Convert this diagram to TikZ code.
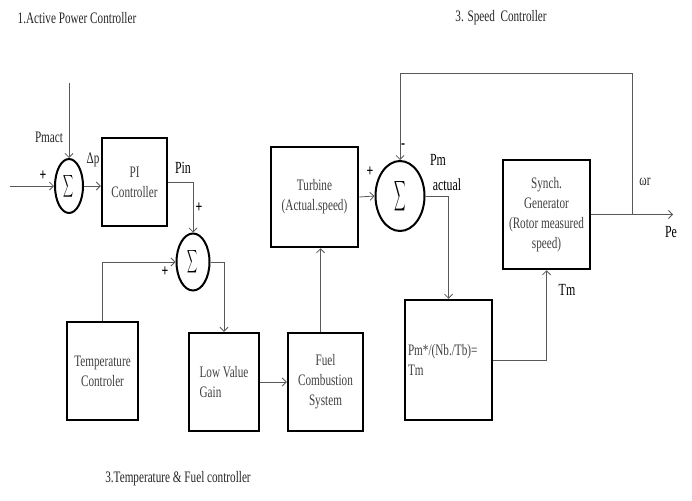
\documentclass[tikz,border=0pt]{standalone}
\usepackage{fontspec}
\setmainfont{Liberation Serif}[FakeStretch=0.7]
\usetikzlibrary{arrows.meta,shapes.geometric}
\newcommand{\sumsym}[2]{{\fontsize{10}{12}\selectfont\scalebox{#1}[#2]{$\displaystyle\sum$}}}
\tikzset{
  block/.style={draw=black, line width=2.5pt, inner sep=3pt, align=center, text=black!75},
  summer/.style={ellipse, draw=black, line width=2pt, inner sep=0pt},
  signal/.style={-{Straight Barb[length=4pt,width=8pt]}, line width=0.8pt, draw=black!65},
  lbl/.style={inner sep=1pt, text=black!85},
  biglbl/.style={inner sep=1pt, text=black, font=\fontsize{17}{20}\selectfont},
  sgn/.style={inner sep=0pt, font=\fontsize{17}{17}\selectfont\bfseries}
}
\begin{document}
\begin{tikzpicture}[x=1pt, y=-1pt, font=\fontsize{16}{20}\selectfont]
  \useasboundingbox[fill=white] (0,0) rectangle (692,500);

  % headings
  \node[lbl] (t1) at (77,18) {1.Active Power Controller};
  \node[lbl] (t2) at (501,18) {3. Speed\ \ Controller};
  \node[lbl] (t3) at (178,479) {3.Temperature \& Fuel controller};

  % active power loop
  \node[summer, minimum width=28pt, minimum height=54pt] (sum1) at (69,186) {\sumsym{0.7}{1.55}};
  \node[block, minimum width=65pt, minimum height=88pt] (pi) at (134.5,182) {PI\\Controller};
  \node[summer, minimum width=33pt, minimum height=57pt] (sum2) at (193,262) {\sumsym{0.7}{1.6}};

  % temperature and fuel
  \node[block, minimum width=71pt, minimum height=98pt] (temp) at (102.5,371) {Temperature\\Controler};
  \node[block, align=left, minimum width=70pt, minimum height=98pt] (low) at (224,382) {Low Value\\Gain};
  \node[block, minimum width=75pt, minimum height=98pt] (fuel) at (325.5,382) {Fuel\\Combustion\\System};

  % speed loop
  \node[block, minimum width=87pt, minimum height=100pt] (turbine) at (314.5,197) {Turbine\\(Actual.speed)};
  \node[summer, minimum width=49pt, minimum height=70pt] (sum3) at (400,196) {\sumsym{0.8}{2.1}};
  \node[block, align=left, text width=81pt, minimum height=120pt] (pm) at (448.5,360) {Pm*/(Nb./Tb)=\\Tm};
  \node[block, minimum width=87pt, minimum height=109pt, inner sep=1pt] (synch) at (546.5,214.5) {Synch.\\Generator\\(Rotor measured\\speed)};

  \coordinate (in) at (10,186);
  \coordinate (pmtop) at (69,83);
  \coordinate (wr) at (632,214.5);
  \coordinate (fbtop) at (632,73);
  \coordinate (pe) at (673,214.5);

  % signal labels
  \node[lbl] (pmact) at (49,137) {Pmact};
  \node[sgn] (p1) at (43,176) {+};
  \node[lbl] (dp) at (93,160) {Δp};
  \node[biglbl] (pin) at (183,168) {Pin};
  \node[sgn] (p2) at (199,208) {+};
  \node[sgn] (p3) at (165,272) {+};
  \node[sgn] (p4) at (370,172) {+};
  \node[sgn] (m1) at (403,146) {-};
  \node[biglbl] (pmlbl) at (438,160) {Pm};
  \node[biglbl] (actlbl) at (447,185) {actual};
  \node[biglbl] (tm) at (567,290) {Tm};
  \node[lbl] (wrlbl) at (645,182) {ωr};
  \node[biglbl] (pelbl) at (671,232) {Pe};

  % connectors
  \draw[signal] (in) -- (sum1.west);
  \draw[signal] (pmtop) -- (sum1.north);
  \draw[signal] (sum1.east) -- (sum1.east -| pi.west);
  \draw[signal] (pi.east) -| (sum2.north);
  \draw[signal] (temp.north) |- (sum2.west);
  \draw[signal] (sum2.east) -| (low.north);
  \draw[signal] (low.east) -- (fuel.west);
  \draw[signal] ([xshift=-5pt]fuel.north) -- ([xshift=-5pt]fuel.north |- turbine.south);
  \draw[signal] (turbine.east) -- (sum3.west);
  \draw[signal] (sum3.east) -| (pm.north);
  \draw[signal] (pm.east) -| (synch.south);
  \draw[signal] (synch.east) -- (pe);
  \draw[signal] (wr) -- (fbtop) -| (sum3.north);
\end{tikzpicture}
\end{document}
